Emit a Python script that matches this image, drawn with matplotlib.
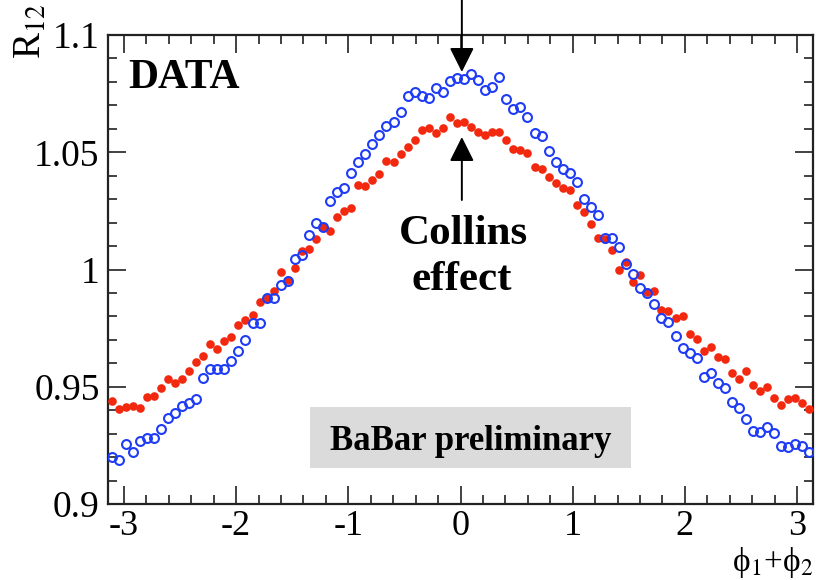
import numpy as np
import matplotlib
matplotlib.use("Agg")
import matplotlib.pyplot as plt
from matplotlib.ticker import MultipleLocator, FixedLocator
from matplotlib.patches import Rectangle

# ---- data ----
n_bins = 100
red_vals = [
    0.9439, 0.9405, 0.9415, 0.9418, 0.9411, 0.9458, 0.9461, 0.9495, 0.9532, 0.9515,
    0.9533, 0.9567, 0.9604, 0.9632, 0.9684, 0.9661, 0.9696, 0.9713, 0.9763, 0.9785,
    0.9806, 0.9860, 0.9877, 0.9910, 0.9991, 0.9955, 1.0005, 1.0080, 1.0088, 1.0129,
    1.0183, 1.0166, 1.0225, 1.0249, 1.0261, 1.0360, 1.0356, 1.0382, 1.0406, 1.0463,
    1.0457, 1.0491, 1.0524, 1.0552, 1.0595, 1.0602, 1.0581, 1.0605, 1.0652, 1.0623,
    1.0628, 1.0609, 1.0585, 1.0574, 1.0585, 1.0588, 1.0552, 1.0512, 1.0510, 1.0498,
    1.0436, 1.0429, 1.0396, 1.0370, 1.0349, 1.0339, 1.0275, 1.0247, 1.0193, 1.0136,
    1.0130, 1.0083, 0.9998, 1.0033, 0.9948, 0.9977, 0.9903, 0.9908, 0.9827, 0.9823,
    0.9792, 0.9802, 0.9725, 0.9702, 0.9654, 0.9670, 0.9626, 0.9618, 0.9560, 0.9532,
    0.9568, 0.9507, 0.9482, 0.9498, 0.9453, 0.9422, 0.9446, 0.9451, 0.9429, 0.9404,
]
blue_vals = [
    0.9202, 0.9186, 0.9255, 0.9223, 0.9269, 0.9283, 0.9283, 0.9319, 0.9365, 0.9387,
    0.9418, 0.9429, 0.9448, 0.9539, 0.9575, 0.9576, 0.9574, 0.9611, 0.9654, 0.9699,
    0.9773, 0.9771, 0.9877, 0.9877, 0.9933, 0.9951, 1.0043, 1.0062, 1.0146, 1.0200,
    1.0183, 1.0292, 1.0332, 1.0346, 1.0410, 1.0457, 1.0491, 1.0534, 1.0574, 1.0613,
    1.0630, 1.0673, 1.0740, 1.0756, 1.0742, 1.0730, 1.0773, 1.0759, 1.0804, 1.0815,
    1.0811, 1.0832, 1.0808, 1.0765, 1.0779, 1.0819, 1.0726, 1.0683, 1.0695, 1.0650,
    1.0581, 1.0569, 1.0507, 1.0460, 1.0427, 1.0413, 1.0375, 1.0301, 1.0268, 1.0232,
    1.0136, 1.0136, 1.0095, 1.0023, 0.9980, 0.9920, 0.9898, 0.9852, 0.9794, 0.9777,
    0.9718, 0.9667, 0.9645, 0.9621, 0.9543, 0.9560, 0.9515, 0.9493, 0.9436, 0.9408,
    0.9362, 0.9313, 0.9306, 0.9327, 0.9301, 0.9249, 0.9244, 0.9254, 0.9249, 0.9223,
]
x_ticks = [-3, -2, -1, 0, 1, 2, 3]
y_ticks = [0.9, 0.95, 1.0, 1.05, 1.1]
y_ticklabels = ["0.9", "0.95", "1", "1.05", "1.1"]

edges = np.linspace(-np.pi, np.pi, n_bins + 1)
centers = 0.5 * (edges[:-1] + edges[1:])

plt.rcParams['font.family'] = ['Liberation Serif', 'DejaVu Serif']
plt.rcParams['mathtext.fontset'] = 'stix'

W, H = 816, 580
fig = plt.figure(figsize=(W / 100, H / 100), dpi=100)
L, R, B, T = 108, 813, 504, 35
ax = fig.add_axes([L / W, 1 - B / H, (R - L) / W, (B - T) / H])

ax.plot(centers, red_vals, 'o', color='#f2290f', ms=6.2, mec='none', zorder=3)
ax.plot(centers, blue_vals, 'o', mfc='none', mec='#1f3cf5', ms=6.4, mew=1.5, zorder=4)

ax.set_xlim(-np.pi, np.pi)
ax.set_ylim(0.9, 1.1)
ax.xaxis.set_major_locator(FixedLocator(x_ticks))
ax.xaxis.set_minor_locator(MultipleLocator(0.2))
ax.yaxis.set_major_locator(FixedLocator(y_ticks))
ax.set_yticklabels(y_ticklabels)
ax.yaxis.set_minor_locator(MultipleLocator(0.01))
ax.set_xticklabels([str(t) for t in x_ticks])

ax.tick_params(which='both', direction='in', top=True, right=True, width=1.3, color='#333333')
ax.tick_params(which='major', length=13, labelsize=27)
ax.tick_params(which='minor', length=6.5)
ax.tick_params(axis='y', which='major', pad=6)
ax.tick_params(axis='x', which='major', labelsize=26, pad=4)
for s in ax.spines.values():
    s.set_linewidth(1.6)
    s.set_color('#222222')

# texts
ax.text(-2.964, 1.0774, 'DATA', fontsize=30, fontweight='bold', ha='left', va='baseline')
ax.text(0.027, 1.0107, 'Collins', fontsize=31, fontweight='bold', ha='center', va='baseline')
ax.text(0.015, 0.9911, 'effect', fontsize=31, fontweight='bold', ha='center', va='baseline')

# BaBar preliminary box
bx0 = -3 + (310 - 124) / 112
bx1 = -3 + (630 - 124) / 112
by0 = 0.9 + (504 - 468) / 2345
by1 = 0.9 + (504 - 407) / 2345
ax.add_patch(Rectangle((bx0, by0), bx1 - bx0, by1 - by0, facecolor='#dadbda', edgecolor='none', zorder=2))
ax.text(0.5 * (bx0 + bx1), 0.9 + (504 - 450) / 2345, 'BaBar preliminary', fontsize=25,
        fontweight='bold', ha='center', va='baseline', zorder=5)

# arrows
xa = 0.012
ax.annotate('', xy=(xa, 0.9 + (504 - 72) / 2345), xytext=(xa, 0.9 + (504 + 2) / 2345),
            arrowprops=dict(arrowstyle='-|>,head_length=1.5,head_width=0.75', mutation_scale=10,
                            lw=1.4, color='k', shrinkA=0, shrinkB=0),
            annotation_clip=False, zorder=6)
ax.annotate('', xy=(xa, 0.9 + (504 - 137) / 2345), xytext=(xa, 0.9 + (504 - 200) / 2345),
            arrowprops=dict(arrowstyle='-|>,head_length=1.5,head_width=0.75', mutation_scale=10,
                            lw=1.4, color='k', shrinkA=0, shrinkB=0),
            annotation_clip=False, zorder=6)

# axis labels
fig.text(31 / W, 1 - 4 / H, r'R$_{12}$', rotation=90, fontsize=28, ha='center', va='top')
fig.text(813 / W, 1 - 571 / H, r'ϕ$_1$+ϕ$_2$', fontsize=24, ha='right', va='baseline')

fig.savefig('out.png', dpi=100)
